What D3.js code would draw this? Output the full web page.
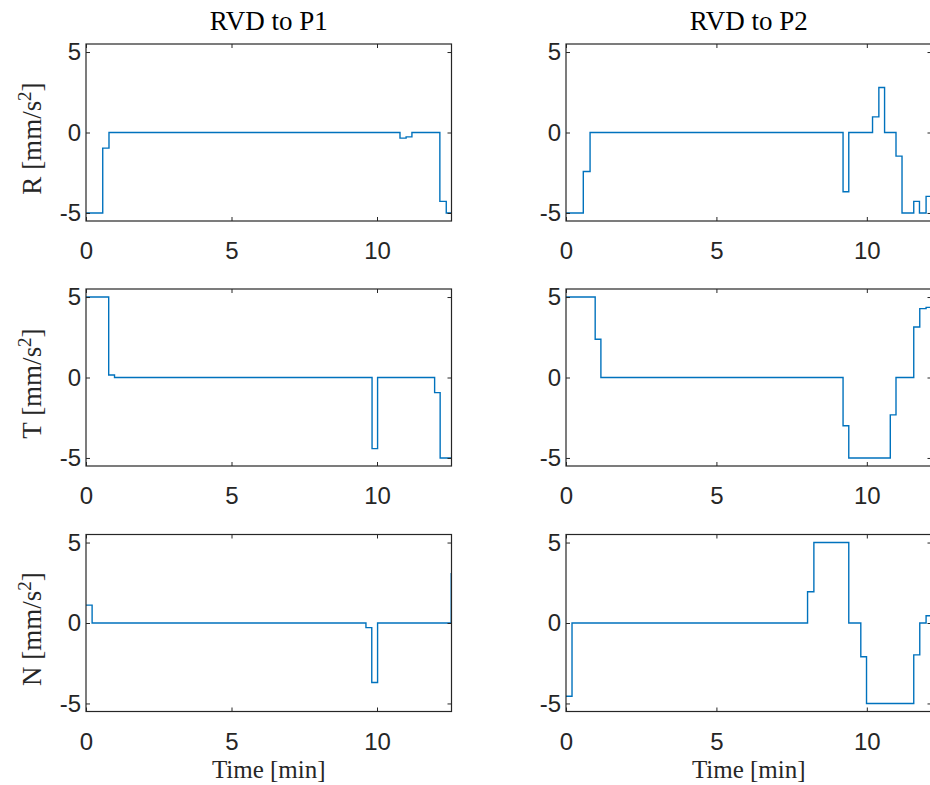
<!DOCTYPE html>
<html>
<head>
<meta charset="utf-8">
<script src="https://cdn.jsdelivr.net/npm/d3@7"></script>
<style>
  body { margin: 0; background: #fff; }
  svg { display: block; }
</style>
</head>
<body>
<div class="chart"></div>
<script>
// step breakpoints [min] and accelerations [mm/s^2]
var timeR1 = [0, 0.575, 0.79, 10.79, 11.0, 11.2, 12.16, 12.38];
var accR1  = [-5, -0.97, 0, -0.35, -0.27, 0, -4.28, -5];
var timeT1 = [0, 0.78, 0.98, 9.83, 10.02, 11.98, 12.17];
var accT1  = [5, 0.16, 0, -4.42, 0, -0.94, -5];
var timeN1 = [0, 0.21, 9.62, 9.82, 10.02, 12.55];
var accN1  = [1.11, 0, -0.29, -3.7, 0, 3.1];

var timeR2 = [0, 0.575, 0.80, 9.21, 9.40, 10.19, 10.40, 10.59, 10.97, 11.17, 11.56, 11.75, 11.97];
var accR2  = [-5, -2.42, 0, -3.68, 0, 0.97, 2.8, 0, -1.47, -5, -4.28, -5, -3.97];
var timeT2 = [0, 0.97, 1.16, 9.21, 9.40, 10.78, 10.97, 11.56, 11.76, 11.97];
var accT2  = [5, 2.38, 0, -3.0, -5, -2.32, 0, 3.14, 4.28, 4.36];
var timeN2 = [0, 0.20, 8.03, 8.24, 9.40, 9.80, 9.99, 11.56, 11.76, 11.97];
var accN2  = [-4.55, 0, 1.94, 5, 0, -2.1, -5, -1.98, 0, 0.45];

var xMax = [12.56, 12.15];
var xTicks = [0, 5, 10];
var yTicks = [-5, 0, 5];
var titles = ["RVD to P1", "RVD to P2"];
var rowNames = ["R", "T", "N"];

var panels = [
  {row: 0, col: 0, t: timeR1, a: accR1},
  {row: 1, col: 0, t: timeT1, a: accT1},
  {row: 2, col: 0, t: timeN1, a: accN1, open: true},
  {row: 0, col: 1, t: timeR2, a: accR2},
  {row: 1, col: 1, t: timeT2, a: accT2},
  {row: 2, col: 1, t: timeN2, a: accN2}
];

var W = 930, H = 785;
var colLeft = [86, 566];
var rowTop = [44, 289, 534.5];
var pw = 365.5, ph = 177;
var ink = "#262626";
var sansFont = "'Liberation Sans', Arial, Helvetica, sans-serif";
var serifFont = "'Liberation Serif', 'Times New Roman', serif";

var svg = d3.select("div.chart")
  .append("svg")
  .attr("width", W)
  .attr("height", H)
  .attr("viewBox", `0 0 ${W} ${H}`);

panels.forEach(function(p, i){
  var x = d3.scaleLinear().domain([0, xMax[p.col]]).range([0, pw]);
  var y = d3.scaleLinear().domain([-5.5, 5.5]).range([ph, 0]);

  var g = svg.append("g")
    .attr("transform", `translate(${colLeft[p.col]},${rowTop[p.row]})`);

  g.append("clipPath").attr("id", "clip" + i)
    .append("rect").attr("width", pw).attr("height", ph);

  //stairs line, last level held to the end of the axis
  var pts = p.t.map((t, k) => [t, p.a[k]]);
  if (!p.open) pts.push([xMax[p.col] + 0.5, p.a[p.a.length - 1]]);
  var line = d3.line()
    .x(d => x(d[0]))
    .y(d => y(d[1]))
    .curve(d3.curveStepAfter);

  g.append("path")
    .datum(pts)
    .attr("clip-path", `url(#clip${i})`)
    .attr("d", line)
    .attr("fill", "none")
    .attr("stroke", "#0072BD")
    .attr("stroke-width", 1.4);

  //axes, ticks inward on all four sides
  var bottom = g.append("g").attr("transform", `translate(0,${ph})`)
    .call(d3.axisBottom(x).tickValues(xTicks).tickSizeInner(-4).tickSizeOuter(0).tickPadding(21));
  var left = g.append("g")
    .call(d3.axisLeft(y).tickValues(yTicks).tickFormat(d3.format("d")).tickSizeInner(-4).tickSizeOuter(0).tickPadding(5));
  var top = g.append("g")
    .call(d3.axisTop(x).tickValues(xTicks).tickFormat("").tickSizeInner(-4).tickSizeOuter(0));
  var right = g.append("g").attr("transform", `translate(${pw},0)`)
    .call(d3.axisRight(y).tickValues(yTicks).tickFormat("").tickSizeInner(-4).tickSizeOuter(0));

  [bottom, left, top, right].forEach(function(a){
    a.select(".domain").remove();
    a.selectAll(".tick line").attr("stroke", ink).attr("stroke-width", 1);
    a.selectAll(".tick text")
      .attr("fill", ink)
      .style("font-family", sansFont)
      .style("font-size", "24px");
  });
  left.selectAll(".tick text").text(d => d < 0 ? "-" + Math.abs(d) : d);

  g.append("rect")
    .attr("width", pw)
    .attr("height", ph)
    .attr("fill", "none")
    .attr("stroke", ink)
    .attr("stroke-width", 1.2);

  //title on first row
  if (p.row === 0) {
    g.append("text")
      .attr("x", pw / 2)
      .attr("y", -14)
      .attr("text-anchor", "middle")
      .attr("fill", "#000")
      .style("font-family", serifFont)
      .style("font-size", "27px")
      .text(titles[p.col]);
  }

  //y label on left column
  if (p.col === 0) {
    var lbl = g.append("text")
      .attr("transform", `translate(${41 - colLeft[0]},${ph / 2 + 6}) rotate(-90)`)
      .attr("text-anchor", "middle")
      .attr("fill", ink)
      .style("font-family", serifFont)
      .style("font-size", "27px");
    lbl.append("tspan").text(rowNames[p.row] + " [mm/s");
    lbl.append("tspan").attr("dy", -10).style("font-size", "19px").text("2");
    lbl.append("tspan").attr("dy", 10).text("]");
  }

  //x label on bottom row
  if (p.row === 2) {
    g.append("text")
      .attr("x", pw / 2)
      .attr("y", 778 - rowTop[2])
      .attr("text-anchor", "middle")
      .attr("fill", ink)
      .style("font-family", serifFont)
      .style("font-size", "25px")
      .text("Time [min]");
  }
});
</script>
</body>
</html>
